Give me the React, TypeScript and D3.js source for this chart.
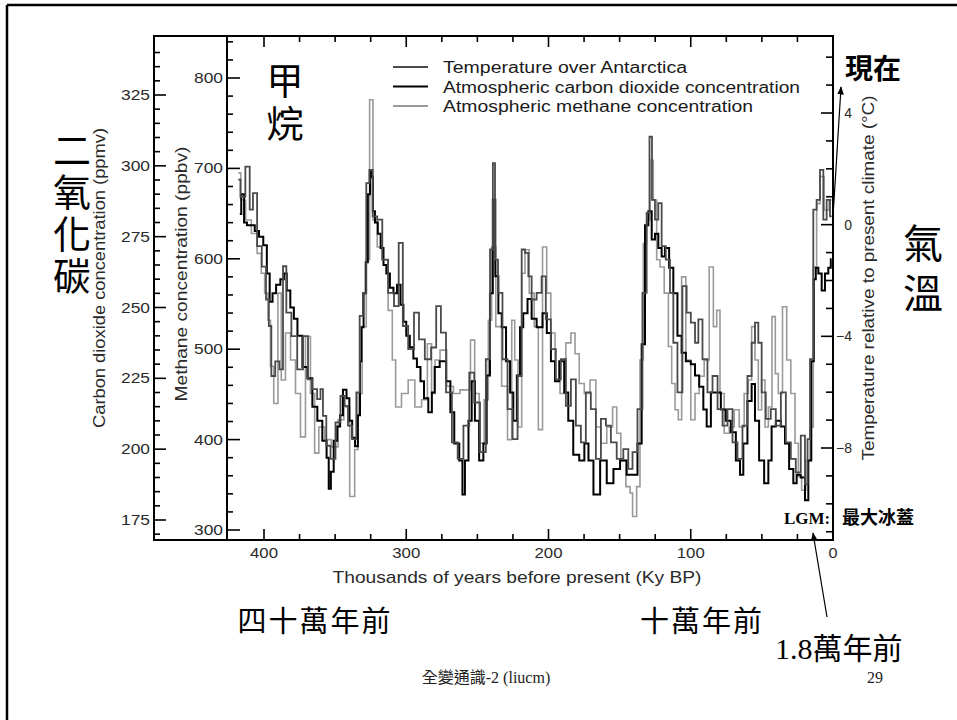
import React from 'react';
import * as d3 from 'd3';

// ---------- data (age in ky BP, value) ----------
const co2Series: [number, number][] = [
  [417,283],[415,290],[413,280],[411,279],[408,279],[405,277],[402,275],[399,272],[397,262],[395,252],[393,255],[390,258],[387,260],[385,262],[383,256],[380,250],[378,246],[375,240],[371,229],[368,225],[364,215],[361,210],[357,203],[355,197],[354,186],[352,192],[350,203],[347,208],[346,212],[343,221],[341,218],[339,210],[337,204],[335,201],[333,212],[332,231],[331,243],[329,255],[328,266],[326,290],[325,298],[324,296],[323,284],[321,280],[319,276],[317,271],[315,265],[313,262],[310,257],[308,255],[305,258],[303,251],[301,245],[299,240],[296,236],[294,232],[291,229],[289,224],[286,218],[283,213],[281,220],[279,229],[274,231],[270,224],[268,213],[264.5,202],[261,196],[260,184],[257.5,196],[255,210],[253,224],[250.5,210],[247,196],[244.6,202],[242.3,226],[240,255],[238.3,288],[236.5,261],[234,248],[231.7,243],[228,231],[226,220],[223.5,210],[221,226],[219,243],[216.5,248],[213,253],[210.7,246],[206,243],[202.4,248],[200,241],[196.6,231],[194.2,224],[190.7,231],[187.2,220],[185,210],[180.2,198],[176.6,196],[173,202],[170.8,196],[166,184],[161.4,196],[156.7,188],[152,193],[147.4,196],[142.7,191],[139.2,191],[135.7,202],[133.3,237],[131,279],[128.6,284],[126.3,274],[124,276],[121.6,271],[119.3,268],[117,271],[113.4,264],[111.1,255],[107.6,240],[105.2,234],[101.7,231],[98.2,230],[95.8,226],[92.3,222],[90,214],[87.6,208],[84.1,220],[80.6,220],[77.1,214],[73.6,210],[70.1,206],[66.5,196],[64.2,191],[61.9,202],[58.4,217],[56,223],[53.7,210],[50.2,196],[46.6,188],[44.3,196],[42,208],[38.4,210],[34.9,208],[32.6,202],[29.1,193],[26.7,188],[24.4,191],[20.9,190],[18.5,182],[16.2,196],[14.3,231],[12.7,260],[11.5,264],[9.1,262],[6.8,256],[4.5,262],[2.1,264],[1,267]
];

const tempSeries: [number, number][] = [
  [418.1,1.61],[415,1.0],[411.2,2.08],[408.9,0.54],[406.6,1.13],[403.1,-0.77],[400,-1.5],[397.2,-2.68],[396,-3.63],[393.7,-5.42],[390.5,-4.9],[387.8,-5.18],[385.5,-1.49],[383.1,-3.15],[378.4,-3.99],[374.9,-5.18],[370.2,-3.99],[367.9,-5.54],[364.4,-5.89],[360.9,-6.25],[359.7,-5.89],[357.4,-6.85],[355,-7.92],[351.5,-8.39],[348,-7.08],[344.5,-6.13],[342.1,-6.49],[339.8,-7.2],[336.3,-7.68],[333.9,-6.01],[331.6,-3.27],[329.3,-2.44],[326.9,1.49],[325,1.96],[322.2,0.3],[318.6,0.18],[315.1,-1.25],[310.4,-2.44],[306.8,-2.92],[303.8,-0.65],[301,-3.63],[296.3,-4.46],[292.8,-3.15],[289.3,-4.11],[284.6,-4.82],[280.5,-4.4],[277.4,-2.92],[273.9,-3.87],[270.2,-6.01],[265.6,-7.8],[262.1,-8.39],[257.5,-7.2],[253.9,-5.3],[250.5,-6.37],[245.8,-8.15],[242.3,-4.82],[239.9,-0.89],[238.3,2.2],[236.9,-1.25],[234.1,-2.44],[230.6,-4.82],[227,-6.61],[223.5,-7.68],[220,-5.42],[217.7,-0.89],[215.3,-1.01],[213,-1.85],[210.7,-2.68],[206,-2.44],[203.7,-1.85],[200.1,-3.39],[196.6,-4.46],[193.1,-5.54],[189.6,-4.82],[186,-6.49],[182.5,-5.54],[179,-7.2],[175.5,-7.8],[172,-6.01],[168.5,-6.61],[164.9,-8.39],[161.4,-6.96],[157.9,-7.2],[154.4,-7.8],[149.7,-8.39],[145.1,-8.04],[142.7,-8.75],[139.2,-8.15],[135.7,-6.61],[132.2,-2.44],[129.8,0.42],[128.2,3.15],[126.3,0.89],[124,0.18],[121.6,0.77],[119.3,-0.77],[115.8,-1.25],[113.4,-2.44],[111.1,-4.23],[107.6,-6.01],[104.1,-2.2],[101.7,-3.15],[98.2,-3.51],[95.8,-4.23],[93.5,-3.39],[90,-4.82],[86.5,-6.01],[82.9,-5.42],[79.4,-6.61],[75.9,-7.2],[72.4,-6.61],[68.9,-7.8],[65.4,-8.39],[61.9,-7.2],[58.4,-5.42],[56,-4.23],[53.7,-3.51],[51.3,-4.23],[49,-6.01],[45.5,-6.96],[42,-6.61],[38.4,-7.2],[34.9,-6.01],[31.4,-7.8],[27.9,-8.39],[24.4,-8.87],[20.9,-7.56],[18.5,-9.3],[17.3,-7.68],[15,-4.82],[12.7,0.54],[10.3,0.89],[8,1.96],[5.6,0.18],[3.3,0.89],[0.9,0.3]
];

const ch4Series: [number, number][] = [
  [418.1,695],[414.6,665],[411.2,643],[406.6,628],[403.1,606],[400.7,584],[398.4,562],[396,532],[394.9,481],[391.4,440],[389,562],[386.7,466],[383.1,518],[379.6,488],[376.1,451],[372.6,403],[369.1,514],[365.6,451],[363.2,385],[359.7,414],[355,400],[350.3,392],[345.6,422],[342.1,436],[337.4,337],[335.1,389],[332.7,451],[329.3,525],[326.9,599],[324.6,776],[322.2,643],[318.6,613],[315.1,599],[310.4,543],[309.2,488],[305.7,436],[301,451],[296.3,466],[291.6,436],[286.9,444],[283.4,506],[281,451],[278.6,488],[273.9,499],[269.2,459],[264.5,451],[259.9,455],[256.4,455],[253.3,510],[250.5,451],[247,396],[243.5,444],[241.1,532],[238.8,613],[235.3,525],[230.6,459],[227,400],[224.7,532],[222.8,488],[220,414],[217.7,584],[215.3,610],[211.8,562],[208.3,525],[206,411],[202.4,613],[200.1,562],[196.6,518],[194.2,466],[189.6,451],[186,507],[182.5,518],[180.2,495],[176.6,462],[173.1,451],[168.5,466],[164.9,414],[161.4,396],[156.7,414],[153.2,436],[150.9,407],[147.4,377],[143.8,348],[141.5,341],[140.3,315],[139.2,315],[136.9,348],[134.5,488],[132.2,617],[129.8,643],[127.5,709],[125.1,665],[122.8,599],[120.4,591],[116.9,562],[114.6,503],[112.2,462],[109.9,433],[107.6,422],[105.2,580],[101.7,488],[98.2,422],[95.8,451],[92.3,470],[88.8,488],[85.3,591],[82.9,525],[80.6,543],[78.3,451],[74.7,407],[71.2,414],[67.7,433],[64.2,414],[60.7,451],[58.4,466],[56,525],[53.7,488],[51.3,433],[49,466],[46.6,414],[44.3,436],[41.5,536],[39.6,473],[37.3,451],[33.7,547],[31.4,488],[27.9,451],[25.5,396],[23.2,359],[20.9,344],[17.3,377],[15,414],[12.7,591],[10.3,661],[8,691],[4.5,654],[0.9,665]
];

const xTickLabels = [0, 100, 200, 300, 400];
const co2TickLabels = [175, 200, 225, 250, 275, 300, 325];
const ch4TickLabels = [300, 400, 500, 600, 700, 800];
const tempTickLabels = [-8, -4, 0, 4];
const legendLabels = [
  'Temperature over Antarctica',
  'Atmospheric carbon dioxide concentration',
  'Atmospheric methane concentration',
];
const legendLengths = [244, 357, 310];

const SANS = "'Liberation Sans', Arial, sans-serif";
const CJK = "'Noto Sans CJK TC', 'Noto Sans CJK SC', sans-serif";
const SERIF = "'Liberation Serif', 'Noto Sans CJK TC', serif";

const L = 154, R = 833, T = 36, B = 540, MX = 227;
const COL_T = '#4a4a4a', COL_C = '#000', COL_M = '#9a9a9a';

export default function App() {
  const x = d3.scaleLinear().domain([0, 400]).range([R, 264]);
  const yC = d3.scaleLinear().domain([175, 325]).range([520, 95]);
  const yM = d3.scaleLinear().domain([300, 800]).range([530, 78]);
  const yT = d3.scaleLinear().domain([-8, 4]).range([448, 113]);

  const mk = (ys: d3.ScaleLinear<number, number>) =>
    d3.line<[number, number]>().x(d => x(d[0])).y(d => ys(d[1])).curve(d3.curveStep);

  const sortAsc = (a: [number, number][]) => [...a].sort((p, q) => p[0] - q[0]);

  const co2Minor = d3.range(170, 341, 5);
  const ch4Minor = d3.range(300, 841, 20);
  const tMinor = d3.range(-11, 7, 1);
  const xMinor = d3.range(0, 401, 25);

  const axisText = '#2a2a2a';
  const vert: React.CSSProperties = { writingMode: 'vertical-rl' as any };

  return (
    <svg width={957} height={720} style={{ position: 'absolute', left: 0, top: 0, background: '#fff' }}
      xmlns="http://www.w3.org/2000/svg">
      <defs>
        <marker id="ah" viewBox="0 0 10 10" refX="9" refY="5" markerWidth="7" markerHeight="9" orient="auto">
          <path d="M0,1 L10,5 L0,9 z" fill="#000" />
        </marker>
      </defs>
      <rect x={0} y={0} width={957} height={720} fill="#fff" />
      {/* slide border */}
      <line x1={7} y1={5} x2={957} y2={5} stroke="#000" strokeWidth={2.5} />
      <line x1={7} y1={5} x2={7} y2={720} stroke="#000" strokeWidth={2.5} />

      {/* data lines */}
      <path d={mk(yM)(sortAsc(ch4Series)) || ''} fill="none" stroke={COL_M} strokeWidth={1.6} />
      <path d={mk(yC)(sortAsc(co2Series)) || ''} fill="none" stroke={COL_C} strokeWidth={2} />
      <path d={mk(yT)(sortAsc(tempSeries)) || ''} fill="none" stroke={COL_T} strokeWidth={1.8} />

      {/* frame */}
      <rect x={L} y={T} width={R - L} height={B - T} fill="none" stroke="#000" strokeWidth={2} />
      <line x1={MX} y1={T} x2={MX} y2={B} stroke="#000" strokeWidth={2} />

      {/* CO2 axis ticks */}
      {co2Minor.map(v => {
        const major = v % 25 === 0 && v >= 175 && v <= 325;
        return <line key={'c' + v} x1={L} x2={L + (major ? 12 : 6)} y1={yC(v)} y2={yC(v)} stroke="#000" strokeWidth={1.6} />;
      })}
      {co2TickLabels.map(v => (
        <text key={'cl' + v} x={150} y={yC(v) + 5} textAnchor="end" fontFamily={SANS} fontSize={14}
          fill={axisText} textLength={29} lengthAdjust="spacingAndGlyphs">{v}</text>
      ))}

      {/* CH4 axis ticks */}
      {ch4Minor.map(v => {
        const major = v % 100 === 0;
        return <line key={'m' + v} x1={MX} x2={MX + (major ? 13 : 6)} y1={yM(v)} y2={yM(v)} stroke="#000" strokeWidth={1.6} />;
      })}
      {ch4TickLabels.map(v => (
        <text key={'ml' + v} x={223} y={yM(v) + 5} textAnchor="end" fontFamily={SANS} fontSize={14}
          fill={axisText} textLength={29} lengthAdjust="spacingAndGlyphs">{v}</text>
      ))}

      {/* Temperature axis ticks */}
      {tMinor.map(v => {
        const major = v % 4 === 0;
        return <line key={'t' + v} x1={R} x2={R - (major ? 12 : 7)} y1={yT(v)} y2={yT(v)} stroke="#000" strokeWidth={1.6} />;
      })}
      {tempTickLabels.map(v => (
        <text key={'tl' + v} x={852} y={yT(v) + 5} textAnchor="end" fontFamily={SANS} fontSize={14}
          fill={axisText}>{v < 0 ? '\u2212' + Math.abs(v) : v}</text>
      ))}

      {/* X axis ticks (bottom + top) */}
      {xMinor.map(v => {
        const major = v % 100 === 0;
        const len = major ? 11 : 6;
        return (
          <g key={'x' + v}>
            <line x1={x(v)} x2={x(v)} y1={B} y2={B - len} stroke="#000" strokeWidth={1.6} />
            <line x1={x(v)} x2={x(v)} y1={T} y2={T + len} stroke="#000" strokeWidth={1.6} />
          </g>
        );
      })}
      {xTickLabels.map(v => (
        <text key={'xl' + v} x={x(v)} y={558} textAnchor="middle" fontFamily={SANS} fontSize={15}
          fill={axisText} textLength={v === 0 ? 9 : 28} lengthAdjust="spacingAndGlyphs">{v}</text>
      ))}

      {/* axis titles */}
      <text x={517} y={583} textAnchor="middle" fontFamily={SANS} fontSize={17} fill={axisText}
        textLength={369} lengthAdjust="spacingAndGlyphs">Thousands of years before present (Ky BP)</text>
      <text transform="translate(105,278) rotate(-90)" textAnchor="middle" fontFamily={SANS} fontSize={16}
        fill={axisText} textLength={300} lengthAdjust="spacingAndGlyphs">Carbon dioxide concentration (ppmv)</text>
      <text transform="translate(187,274) rotate(-90)" textAnchor="middle" fontFamily={SANS} fontSize={16}
        fill={axisText} textLength={255} lengthAdjust="spacingAndGlyphs">Methane concentration (ppbv)</text>
      <text transform="translate(874,278) rotate(-90)" textAnchor="middle" fontFamily={SANS} fontSize={16}
        fill={axisText} textLength={365} lengthAdjust="spacingAndGlyphs">Temperature relative to present climate (°C)</text>

      {/* legend */}
      {legendLabels.map((lab, i) => {
        const cy = 67 + i * 19.5;
        const col = [COL_T, COL_C, COL_M][i];
        return (
          <g key={lab}>
            <line x1={393} x2={428} y1={cy} y2={cy} stroke={col} strokeWidth={2} />
            <text x={443} y={cy + 6} fontFamily={SANS} fontSize={16} fill="#1a1a1a"
              textLength={legendLengths[i]} lengthAdjust="spacingAndGlyphs">{lab}</text>
          </g>
        );
      })}

      {/* Chinese annotations (vertical) */}
      <text x={285} y={62} style={vert} fontFamily={CJK} fontSize={37} letterSpacing={6} fill="#000">甲烷</text>
      <text x={72} y={131} style={vert} fontFamily={CJK} fontSize={38} letterSpacing={4} fill="#000">二氧化碳</text>
      <text x={923} y={223} style={vert} fontFamily={CJK} fontSize={40} letterSpacing={10} fill="#000">氣溫</text>

      <text x={873} y={79} textAnchor="middle" fontFamily={CJK} fontWeight={700} fontSize={28} fill="#000">現在</text>
      <line x1={833} y1={217} x2={841} y2={87} stroke="#000" strokeWidth={1.2} markerEnd="url(#ah)" />

      <text x={784} y={524} fontFamily={SERIF} fontWeight={700} fontSize={17} fill="#000">LGM:</text>
      <text x={842} y={524} fontFamily={CJK} fontWeight={700} fontSize={18} fill="#000">最大冰蓋</text>
      <line x1={827} y1={617} x2={813} y2={533} stroke="#000" strokeWidth={1.2} markerEnd="url(#ah)" />

      <text x={315} y={632} textAnchor="middle" fontFamily={CJK} fontSize={29} letterSpacing={2} fill="#000">四十萬年前</text>
      <text x={702} y={632} textAnchor="middle" fontFamily={CJK} fontSize={29} letterSpacing={2} fill="#000">十萬年前</text>
      <text x={775} y={659} fontFamily={SERIF} fontSize={30} fill="#000">1.8萬年前</text>

      {/* footer */}
      <text x={486} y={683} textAnchor="middle" fontFamily={SERIF} fontSize={16} fill="#222">全變通識-2 (liucm)</text>
      <text x={875} y={683} textAnchor="middle" fontFamily={SERIF} fontSize={16} fill="#222">29</text>
    </svg>
  );
}
